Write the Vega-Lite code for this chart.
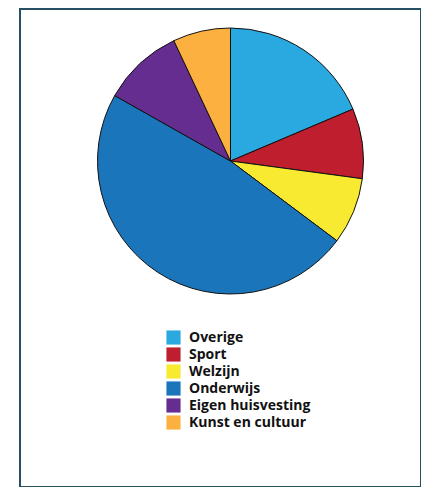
{
  "$schema": "https://vega.github.io/schema/vega-lite/v6.json",
  "autosize": {"type": "none"},
  "padding": {"left": 20, "top": 9, "right": 0, "bottom": 0},
  "width": 401,
  "height": 478,
  "background": "white",
  "view": {"stroke": "#264f63", "strokeWidth": 2, "fill": "white"},
  "data": {
    "values": [
      {"categorie": "Overige", "aandeel": 18.6, "volgorde": 1},
      {"categorie": "Sport", "aandeel": 8.5, "volgorde": 2},
      {"categorie": "Welzijn", "aandeel": 8.1, "volgorde": 3},
      {"categorie": "Onderwijs", "aandeel": 47.9, "volgorde": 4},
      {"categorie": "Eigen huisvesting", "aandeel": 9.8, "volgorde": 5},
      {"categorie": "Kunst en cultuur", "aandeel": 7.0, "volgorde": 6}
    ]
  },
  "mark": {"type": "arc", "outerRadius": 133, "x": 210.5, "y": 152, "stroke": "#111111", "strokeWidth": 1},
  "encoding": {
    "theta": {"field": "aandeel", "type": "quantitative", "stack": true},
    "order": {"field": "volgorde", "type": "quantitative"},
    "color": {
      "field": "categorie",
      "type": "nominal",
      "scale": {
        "domain": ["Overige", "Sport", "Welzijn", "Onderwijs", "Eigen huisvesting", "Kunst en cultuur"],
        "range": ["#29a9e0", "#be1e2d", "#f7ea31", "#1b75bb", "#662d91", "#fbb040"]
      },
      "legend": {
        "title": null,
        "orient": "none",
        "legendX": 146,
        "legendY": 321,
        "padding": 0,
        "symbolType": "square",
        "symbolSize": 200,
        "symbolStrokeWidth": 0,
        "symbolOffset": 0,
        "rowPadding": 2,
        "labelFont": "Open Sans",
        "labelFontWeight": "bold",
        "labelFontSize": 14,
        "labelLimit": 0,
        "labelColor": "#111111",
        "labelOffset": 8
      }
    }
  }
}
